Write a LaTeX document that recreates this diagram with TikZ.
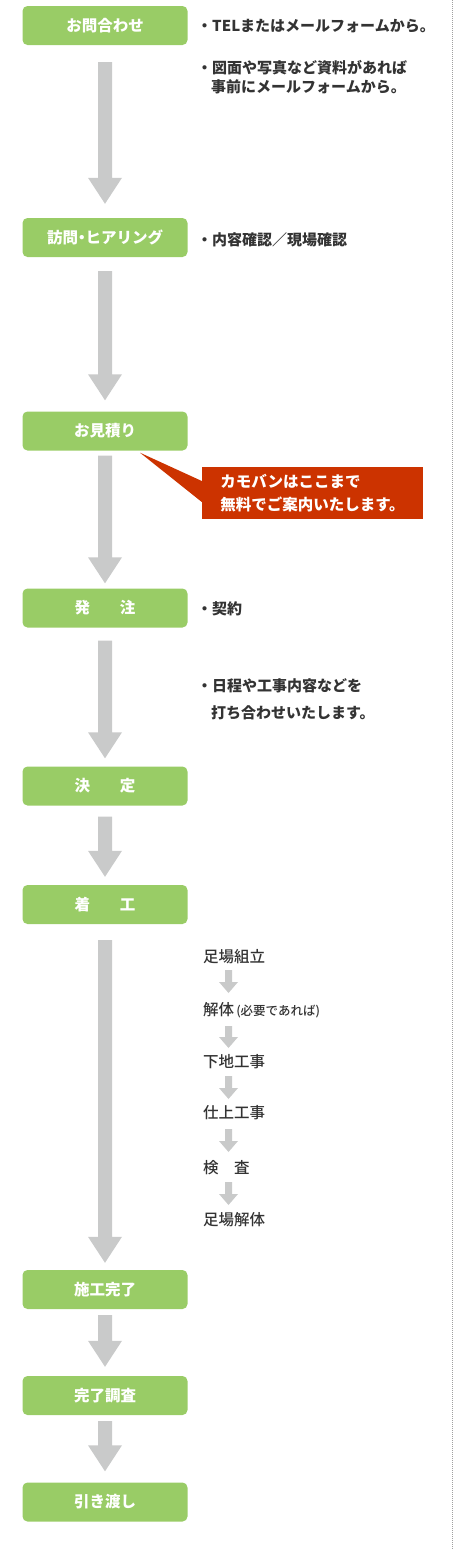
\documentclass[tikz,border=0pt]{standalone}
\usepackage{fontspec}
\setmainfont{Noto Sans CJK JP}
\newfontfamily\medfont{Noto Sans CJK JP Medium}
\usetikzlibrary{calc}
\definecolor{boxgreen}{HTML}{99CC66}
\definecolor{arrowgray}{HTML}{C9CACA}
\definecolor{callred}{HTML}{CC3300}
\definecolor{textdark}{HTML}{333333}
\definecolor{dotgray}{HTML}{A0A0A0}
\newcommand\flowarrow[5]{%
  \fill[arrowgray] let \p1=(#1), \p2=(#2) in
    (\x1-#3,\y1) -- (\x1+#3,\y1) -- (\x1+#3,\y2+#5) -- (\x1+#4,\y2+#5) --
    (\x1,\y2) -- (\x1-#4,\y2+#5) -- (\x1-#3,\y2+#5) -- cycle;}
\newcommand\bigarrow[2]{\flowarrow{#1}{#2}{7pt}{17pt}{26pt}}
\newcommand\smallarrow[2]{\flowarrow{#1}{#2}{3.5pt}{9.5pt}{11pt}}
\begin{document}
\begin{tikzpicture}[x=1pt,y=-1pt,
  stepbox/.style={fill=boxgreen, rounded corners=5pt, minimum width=165pt,
    minimum height=39pt, inner sep=0pt, text=white,
    font=\fontsize{15.5}{18}\selectfont\bfseries},
  note/.style={anchor=west, inner sep=0pt, text=textdark,
    font=\fontsize{15}{18}\selectfont\bfseries},
  substep/.style={anchor=west, inner sep=0pt, text=textdark,
    font=\fontsize{15.5}{18}\selectfont\medfont},
  callbox/.style={fill=callred, minimum width=221pt, minimum height=52pt,
    inner sep=0pt, text=white, align=left,
    font=\fontsize{15.5}{23}\selectfont\bfseries}]
\useasboundingbox (0,0) rectangle (455,1550);
\draw[dotgray, line width=1pt, dash pattern=on 1pt off 1pt] (452.5,0) -- (452.5,1550);

% main steps
\node[stepbox] (b1) at (105,25.5) {お問合わせ};
\node[stepbox] (b2) at (105,237.5) {訪問\kern-4pt・\kern-4pt ヒアリング};
\node[stepbox] (b3) at (105,431) {お見積り};
\node[stepbox] (b4) at (105,608) {発\hspace{30pt}注};
\node[stepbox] (b5) at (105,786) {決\hspace{30pt}定};
\node[stepbox] (b6) at (105,904.5) {着\hspace{30pt}工};
\node[stepbox] (b7) at (105,1289.5) {施工完了};
\node[stepbox] (b8) at (105,1395.5) {完了調査};
\node[stepbox] (b9) at (105,1502) {引き渡し};

% main arrows
\bigarrow{[yshift=-17pt]b1.south}{[yshift=14pt]b2.north}
\bigarrow{[yshift=-14pt]b2.south}{[yshift=11pt]b3.north}
\bigarrow{[yshift=-5pt]b3.south}{[yshift=5pt]b4.north}
\bigarrow{[yshift=-13pt]b4.south}{[yshift=8pt]b5.north}
\bigarrow{[yshift=-11pt]b5.south}{[yshift=8pt]b6.north}
\bigarrow{[yshift=-16pt]b6.south}{[yshift=7pt]b7.north}
\bigarrow{[yshift=-6pt]b7.south}{[yshift=9pt]b8.north}
\bigarrow{[yshift=-6pt]b8.south}{[yshift=11pt]b9.north}

% notes
\node[note] (n1) at (197,26) {・TELまたはメールフォームから。};
\node[note] (n2) at (197,68) {・図面や写真など資料があれば};
\node[note] (n3) at (211,87) {事前にメールフォームから。};
\node[note] (n4) at (197,240) {・内容確認／現場確認};
\node[note] (n5) at (197,609) {・契約};
\node[note] (n6) at (197,686) {・日程や工事内容などを};
\node[note] (n7) at (211,713) {打ち合わせいたします。};

% callout
\node[callbox] (call) at (312.5,493) {カモバンはここまで\\無料でご案内いたします。};
\fill[callred] ([xshift=35pt,yshift=-2pt]b3.south) -- ([yshift=12pt]call.west)
  -- ([yshift=-9pt]call.west) -- cycle;

% sub steps
\node[substep] (s1) at (203,957) {足場組立};
\node[substep] (s2) at (203,1010) {解体{\fontsize{12.5}{14}\selectfont\,(必要であれば)}};
\node[substep] (s3) at (203,1062) {下地工事};
\node[substep] (s4) at (203,1113) {仕上工事};
\node[substep] (s5) at (203,1168) {検　査};
\node[substep] (s6) at (203,1220) {足場解体};

\smallarrow{[xshift=25.5pt,yshift=-13pt]s1.west}{[xshift=25.5pt,yshift=17pt]s2.west}
\smallarrow{[xshift=25.5pt,yshift=-16pt]s2.west}{[xshift=25.5pt,yshift=14pt]s3.west}
\smallarrow{[xshift=25.5pt,yshift=-14pt]s3.west}{[xshift=25.5pt,yshift=14pt]s4.west}
\smallarrow{[xshift=25.5pt,yshift=-16pt]s4.west}{[xshift=25.5pt,yshift=16pt]s5.west}
\smallarrow{[xshift=25.5pt,yshift=-14pt]s5.west}{[xshift=25.5pt,yshift=15pt]s6.west}
\end{tikzpicture}
\end{document}
